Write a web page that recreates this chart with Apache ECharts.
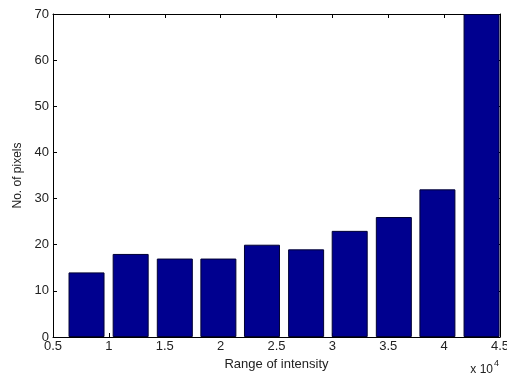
<!DOCTYPE html>
<html>
<head>
<meta charset="utf-8">
<script src="https://cdn.jsdelivr.net/npm/echarts@6/dist/echarts.min.js"></script>
<style>
  html, body { margin: 0; padding: 0; background: #fff; }
  #chart { width: 507px; height: 379px; }
</style>
</head>
<body>
<div id="chart"></div>
<script>
// Histogram of pixel intensities (bin centres in units of 10^4)
const binCenters = [0.80, 1.195, 1.59, 1.98, 2.37, 2.765, 3.155, 3.55, 3.94, 4.335];
const counts = [14, 18, 17, 17, 20, 19, 23, 26, 32, 70];
const xTicks = [0.5, 1, 1.5, 2, 2.5, 3, 3.5, 4, 4.5];

const font = 'Liberation Sans, Arial, sans-serif';
const chart = echarts.init(document.getElementById('chart'));

const baseAxis = {
  axisLine: { show: true, onZero: false, lineStyle: { color: '#000', width: 1 } },
  axisTick: { show: true, inside: true, length: 4, lineStyle: { color: '#000' } },
  splitLine: { show: false },
};

chart.setOption({
  animation: false,
  backgroundColor: '#fff',
  grid: { left: 53, right: 7, top: 14, bottom: 42, containLabel: false, outerBoundsMode: 'none' },
  xAxis: [
    Object.assign({}, baseAxis, {
      type: 'value', min: xTicks[0], max: xTicks[xTicks.length - 1], interval: 0.5,
      position: 'bottom',
      name: 'Range of intensity', nameLocation: 'middle', nameGap: 19,
      nameTextStyle: { fontFamily: font, fontSize: 13, color: '#222' },
      axisLabel: { fontFamily: font, fontSize: 13, color: '#222', margin: 3 },
    }),
    Object.assign({}, baseAxis, {
      type: 'value', min: xTicks[0], max: xTicks[xTicks.length - 1], interval: 0.5,
      position: 'top', axisLabel: { show: false },
    }),
  ],
  yAxis: [
    Object.assign({}, baseAxis, {
      type: 'value', min: 0, max: 70, interval: 10, position: 'left',
      name: 'No. of pixels', nameLocation: 'middle', nameGap: 28,
      nameTextStyle: { fontFamily: font, fontSize: 12, color: '#222' },
      axisLabel: { fontFamily: font, fontSize: 13, color: '#222', margin: 4 },
    }),
    Object.assign({}, baseAxis, {
      type: 'value', min: 0, max: 70, interval: 10, position: 'right',
      axisLabel: { show: false },
    }),
  ],
  graphic: [{
    type: 'text', right: 8, bottom: 3,
    style: {
      text: '{b|x 10}{s|4}',
      rich: {
        b: { fontFamily: font, fontSize: 12, fill: '#222', verticalAlign: 'bottom' },
        s: { fontFamily: font, fontSize: 9, fill: '#222', verticalAlign: 'top', padding: [0, 0, 8, 1] },
      },
    },
  }],
  series: [{
    type: 'bar',
    xAxisIndex: 0, yAxisIndex: 0,
    barWidth: 36,
    data: binCenters.map((c, i) => [c, counts[i]]),
    itemStyle: { color: '#00008F', borderColor: '#000033', borderWidth: 1 },
    clip: true,
  }],
});
</script>
</body>
</html>
